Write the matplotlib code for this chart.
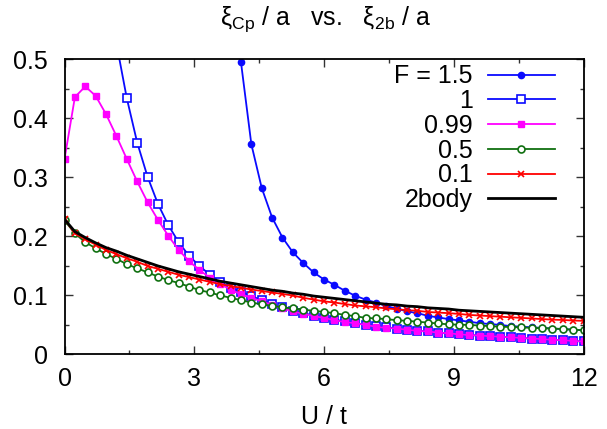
#!/usr/bin/env python3
"""xi_Cp / a vs. xi_2b / a as a function of U / t."""

import numpy as np
import matplotlib
matplotlib.use('Agg')
import matplotlib.pyplot as plt
from matplotlib.ticker import MultipleLocator

plt.rcParams['font.family'] = ['Liberation Sans', 'DejaVu Sans']
plt.rcParams['mathtext.fontset'] = 'custom'
plt.rcParams['mathtext.rm'] = 'Liberation Sans'
plt.rcParams['mathtext.it'] = 'Liberation Sans'

# U/t grid (51 points, step 0.24)
u = np.round(np.arange(51) * 0.24, 2)

# F = 1.5 (starts at U = 3.84)
f15_start = 16
f15 = [0.80, 0.495, 0.356, 0.282, 0.232, 0.198, 0.173, 0.155, 0.139, 0.127,
       0.118, 0.108, 0.0996, 0.093, 0.088, 0.082, 0.0776, 0.073, 0.070, 0.0655,
       0.0627, 0.060, 0.0577, 0.0555, 0.053, 0.0516, 0.050, 0.048, 0.047, 0.046,
       0.045, 0.044, 0.043, 0.042, 0.041]

# F = 1 (starts at U = 0.96)
f1_start = 4
f1 = [0.66, 0.527, 0.434, 0.359, 0.301, 0.255, 0.219, 0.190, 0.167, 0.150,
      0.135, 0.123, 0.113, 0.106, 0.099, 0.092, 0.085, 0.080, 0.074, 0.070,
      0.066, 0.062, 0.059, 0.056, 0.053, 0.050, 0.048, 0.046, 0.044, 0.042,
      0.040, 0.039, 0.037, 0.036, 0.034, 0.033, 0.032, 0.031, 0.030, 0.029,
      0.028, 0.027, 0.026, 0.025, 0.024, 0.023, 0.022]

# F = 0.99
f099 = [0.331, 0.436, 0.454, 0.438, 0.407, 0.370, 0.331, 0.293, 0.258, 0.228,
        0.201, 0.177, 0.158, 0.143, 0.130, 0.119, 0.110, 0.102, 0.096, 0.090,
        0.084, 0.078, 0.073, 0.069, 0.065, 0.062, 0.058, 0.055, 0.053, 0.050,
        0.047, 0.045, 0.044, 0.042, 0.040, 0.039, 0.037, 0.036, 0.034, 0.033,
        0.032, 0.031, 0.030, 0.029, 0.028, 0.027, 0.026, 0.025, 0.024, 0.023,
        0.022]

# F = 0.5
f05 = [0.227, 0.205, 0.190, 0.180, 0.170, 0.162, 0.153, 0.146, 0.139, 0.132,
       0.126, 0.121, 0.115, 0.109, 0.105, 0.100, 0.096, 0.092, 0.088, 0.085,
       0.082, 0.080, 0.078, 0.076, 0.074, 0.072, 0.070, 0.067, 0.065, 0.062,
       0.061, 0.060, 0.058, 0.057, 0.0555, 0.054, 0.0525, 0.051, 0.0505, 0.050,
       0.049, 0.048, 0.047, 0.0465, 0.046, 0.045, 0.0445, 0.044, 0.043, 0.042,
       0.041]

# F = 0.1
f01 = [0.229, 0.205, 0.195, 0.186, 0.177, 0.170, 0.163, 0.157, 0.150, 0.145,
       0.140, 0.135, 0.131, 0.127, 0.123, 0.119, 0.116, 0.113, 0.110, 0.1075,
       0.105, 0.1025, 0.100, 0.096, 0.093, 0.090, 0.088, 0.0855, 0.083, 0.0816,
       0.080, 0.078, 0.0766, 0.075, 0.074, 0.072, 0.071, 0.070, 0.0687, 0.067,
       0.066, 0.065, 0.064, 0.063, 0.062, 0.061, 0.060, 0.059, 0.0585, 0.0575,
       0.057]

# two-body result
two_body = [0.229, 0.208, 0.198, 0.189, 0.181, 0.175, 0.168, 0.162, 0.156, 0.150,
            0.145, 0.140, 0.136, 0.132, 0.128, 0.124, 0.121, 0.118, 0.115, 0.112,
            0.109, 0.107, 0.104, 0.102, 0.099, 0.097, 0.095, 0.093, 0.091, 0.089,
            0.087, 0.085, 0.084, 0.082, 0.081, 0.079, 0.078, 0.077, 0.075, 0.074,
            0.073, 0.072, 0.071, 0.070, 0.069, 0.068, 0.067, 0.066, 0.065, 0.064,
            0.063]

blue = '#0a0aff'
fig = plt.figure(figsize=(6.07, 4.29), dpi=100)
ax = fig.add_axes([0.1063, 0.1737, 0.8550, 0.6881])

ax.plot(u[f15_start:], f15, color=blue, lw=1.3, marker='o', ms=4.5,
        mec=blue, mfc=blue, label='F = 1.5')
ax.plot(u[f1_start:], f1, color=blue, lw=1.3, marker='s', ms=5.5,
        mec=blue, mfc='white', mew=1.2, label='1')
ax.plot(u, f099, color='#ff00ff', lw=1.3, marker='s', ms=4.2,
        mec='#ff00ff', mfc='#ff00ff', label='0.99')
ax.plot(u, f05, color='#107010', lw=1.3, marker='o', ms=5,
        mec='#107010', mfc='white', mew=1.2, label='0.5')
ax.plot(u, f01, color='#ff0000', lw=1.3, marker='x', ms=5,
        mew=1.2, label='0.1')
ax.plot(u, two_body, color='black', lw=2.0, label='2body')

ax.set_xlim(0, 12)
ax.set_ylim(0, 0.5)
ax.xaxis.set_major_locator(MultipleLocator(3))
ax.xaxis.set_minor_locator(MultipleLocator(1.5))
ax.yaxis.set_major_locator(MultipleLocator(0.1))
ax.yaxis.set_minor_locator(MultipleLocator(0.05))
ax.set_yticks([0, 0.1, 0.2, 0.3, 0.4, 0.5])
ax.set_yticklabels(['0', '0.1', '0.2', '0.3', '0.4', '0.5'])
ax.tick_params(which='both', direction='in', top=True, right=True,
               labelsize=18, width=1, color='#333333')
ax.tick_params(axis='x', which='major', length=6, pad=9)
ax.tick_params(axis='y', which='major', length=6, pad=12)
ax.tick_params(which='minor', length=3)
for s in ax.spines.values():
    s.set_linewidth(1.3)

ax.set_xlabel('U / t', fontsize=18, labelpad=10)
fig.text(0.5365, 0.955, r'ξ$_{\rm Cp}$ / a   vs.   ξ$_{\rm 2b}$ / a',
         ha='center', va='center', fontsize=18)

leg = ax.legend(loc='upper right', markerfirst=False, frameon=False,
                fontsize=18, handlelength=2.7, handletextpad=0.6,
                labelspacing=0.03, borderaxespad=0.0, borderpad=0.2,
                bbox_to_anchor=(0.955, 1.0))

fig.savefig('out.png', dpi=100)
